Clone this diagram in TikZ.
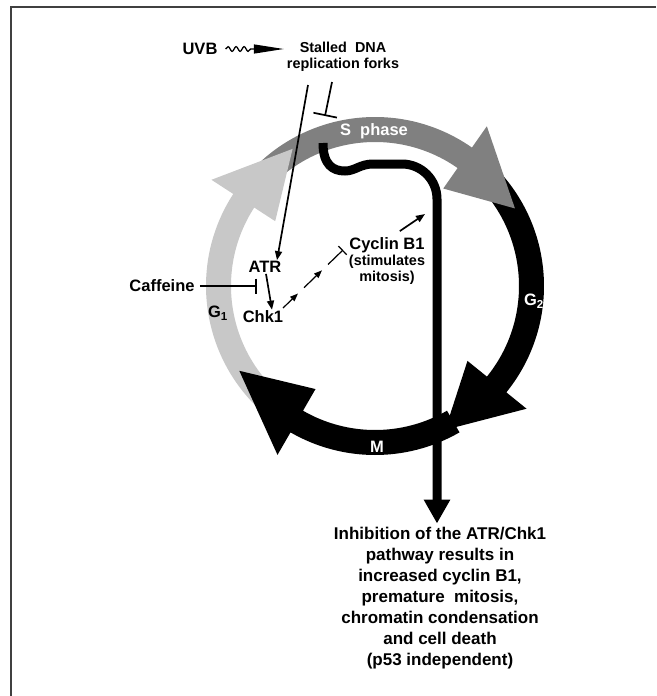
\documentclass[tikz,border=0pt]{standalone}
\usepackage{fontspec}
\setmainfont{Liberation Sans}
\usetikzlibrary{arrows.meta,calc,positioning,decorations.pathmorphing}
\definecolor{lightgr}{RGB}{200,200,200}
\definecolor{darkgr}{RGB}{128,128,128}
\newcommand{\ringout}{169}
\newcommand{\ringin}{144}
% colour, start angle, head base angle, head tip angle
\newcommand{\phasearc}[4]{%
  \fill[#1] ($(cc)+(#2:\ringout)$) arc[start angle=#2,end angle=#3,radius=\ringout]
    -- ($(cc)+(#3:195)$) -- ($(cc)+(#4:160)$) -- ($(cc)+(#3:119)$)
    -- ($(cc)+(#3:\ringin)$) arc[start angle=#3,end angle=#2,radius=\ringin] -- cycle;}
\tikzset{lbl/.style={font=\bfseries\fontsize{16.5}{17}\selectfont,inner sep=1pt},
  small/.style={font=\bfseries\fontsize{14.4}{15.5}\selectfont,inner sep=1pt,align=center},
  act/.style={line width=1.7pt,-{Triangle[length=9pt,width=7pt]}},
  inh/.style={line width=1.7pt,-{Bar[width=15pt,line width=1.7pt]}}}

\begin{document}
\begin{tikzpicture}[x=1pt,y=1pt]
	\useasboundingbox (0,0) rectangle (656,-696);
	\draw[line width=2pt,black!75] (11,-696) -- (11,-7) -- (656,-7);
	\coordinate (cc) at (375,-286);
	\phasearc{black}{42}{-39}{-64}
	\phasearc{darkgr}{137}{55}{29}
	\phasearc{lightgr}{232}{147}{121}
	\phasearc{black}{300}{240}{212}
	\node[lbl,white] (sph) at (374,-131) {S\ \ phase};
	\node[lbl] (g1) at (218,-313) {G\textsubscript{1}};
	\node[lbl,white] (g2) at (534,-301) {G\textsubscript{2}};
	\node[lbl,white] (m) at (377,-447) {M};
	\node[lbl] (uvb) at (200,-49) {UVB};
	\node[small] (forks) at (343,-57) {Stalled\ \ DNA\\replication forks};
	\node[lbl] (atr) at (265,-267) {ATR};
	\node[lbl] (chk) at (263,-317) {Chk1};
	\node[lbl] (caff) at (162,-286) {Caffeine};
	\node[lbl] (cyc) at (387,-245) {Cyclin B1};
	\node[small,below=0pt of cyc] (stim) {(stimulates\\mitosis)};
	\node[align=center,font=\bfseries\fontsize{17}{21}\selectfont] (res) at (440,-598)
		{Inhibition of the ATR/Chk1\\pathway results in\\increased cyclin B1,\\premature\ \ mitosis,\\chromatin condensation\\and cell death\\(p53 independent)};
	% black path into M
	\draw[line width=9pt,-{Triangle[length=24pt,width=25pt]}] (323,-143)
		.. controls (323,-165) and (333,-171) .. (345,-171)
		.. controls (355,-171) and (360,-164) .. (373,-164) -- (402,-164)
		arc[start angle=90,end angle=0,radius=35] -- (res.north -| 437,0) coordinate (mtip);
	\draw[decorate,decoration={snake,amplitude=2.4pt,segment length=8pt,post length=30pt},
		line width=1.3pt,-{Triangle[length=30pt,width=9pt]}] ([xshift=7pt]uvb.east) -- ([xshift=-2pt]forks.west |- uvb.east);
	\coordinate (fk1) at (308,-85);
	\coordinate (fk2) at (332,-82);
	\draw[act] (fk1) -- ([xshift=12pt]atr.north);
	\draw[line width=1.7pt,-{Bar[width=24pt,line width=1.7pt]}] (fk2) -- (325,-116);
	\draw[inh] ([xshift=4pt]caff.east) -- (caff.east -| 257,0);
	\draw[act] ([xshift=1pt]atr.south) -- ([xshift=9pt]chk.north);
	\coordinate (k1) at (283,-308);
	\coordinate (k2) at (343,-250);
	\draw[line width=1.2pt,-{Triangle[length=8pt,width=6pt]}] (k1) -- ($(k1)!0.25!(k2)$);
	\draw[line width=1.2pt,-{Triangle[length=8pt,width=6pt]}] ($(k1)!0.35!(k2)$) -- ($(k1)!0.65!(k2)$);
	\draw[line width=1.2pt,-{Bar[width=12pt,line width=1.2pt]}] ($(k1)!0.75!(k2)$) -- (k2);
	\draw[act] ([xshift=-26pt,yshift=5pt]cyc.north east) -- (425,-214);
\end{tikzpicture}
\end{document}
